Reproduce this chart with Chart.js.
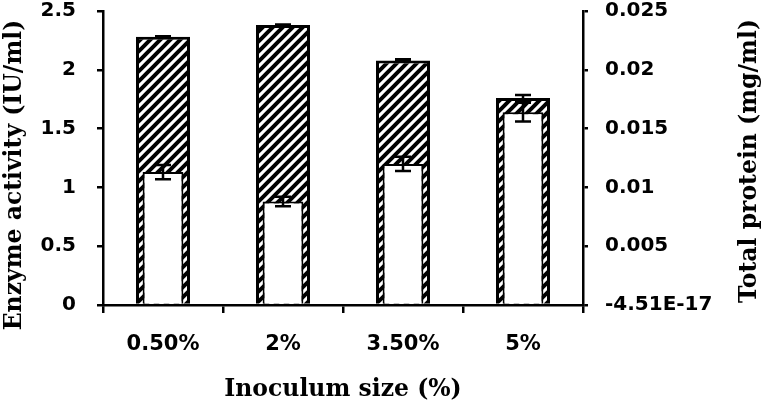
<!DOCTYPE html>
<html>
<head>
<meta charset="utf-8">
<script src="https://cdn.jsdelivr.net/npm/chart.js@4/dist/chart.umd.min.js"></script>
<style>
  html, body { margin: 0; padding: 0; background: #fff; }
  #wrap { width: 765px; height: 406px; }
</style>
</head>
<body>
<div id="wrap"><canvas id="c" width="765" height="406"></canvas></div>
<script>
const categories = ['0.50%', '2%', '3.50%', '5%'];
const enzymeActivity = [2.28, 2.38, 2.08, 1.76];
const enzymeError = [0.005, 0.005, 0.01, 0.025];
const totalProtein = [0.0113, 0.0088, 0.0120, 0.0164];
const proteinError = [0.0006, 0.0004, 0.0006, 0.0008];
const enzymeTickLabels = ['0', '0.5', '1', '1.5', '2', '2.5'];
const proteinTickLabels = ['-4.51E-17', '0.005', '0.01', '0.015', '0.02', '0.025'];
const xTitle = 'Inoculum size (%)';
const yTitle = 'Enzyme activity (IU/ml)';
const y1Title = 'Total protein (mg/ml)';

function hatchPattern() {
  const s = 10;
  const c = document.createElement('canvas');
  c.width = s; c.height = s;
  const g = c.getContext('2d');
  g.fillStyle = '#fff';
  g.fillRect(0, 0, s, s);
  g.strokeStyle = '#000';
  g.lineWidth = 4;
  g.beginPath();
  g.moveTo(-3, s + 3); g.lineTo(s + 3, -3);
  g.moveTo(-3, 3); g.lineTo(3, -3);
  g.moveTo(s - 3, s + 3); g.lineTo(s + 3, s - 3);
  g.stroke();
  const ctx = document.getElementById('c').getContext('2d');
  return ctx.createPattern(c, 'repeat');
}

const tickFont = { family: 'DejaVu Sans', weight: 'bold', size: 20, lineHeight: 1.0 };
const titleFont = 'bold 23.5px "DejaVu Serif"';

const errorBarPlugin = {
  id: 'errorBars',
  afterDatasetsDraw(chart) {
    const ctx = chart.ctx;
    chart.data.datasets.forEach((ds, i) => {
      if (!ds.errors) return;
      const meta = chart.getDatasetMeta(i);
      const scale = chart.scales[ds.yAxisID];
      meta.data.forEach((el, j) => {
        const v = ds.data[j], e = ds.errors[j];
        const x = el.x;
        const yt = scale.getPixelForValue(v + e);
        const yb = scale.getPixelForValue(v - e);
        ctx.save();
        ctx.strokeStyle = '#000';
        ctx.lineWidth = 2.5;
        ctx.beginPath();
        ctx.moveTo(x, yt); ctx.lineTo(x, yb);
        ctx.moveTo(x - 8, yt); ctx.lineTo(x + 8, yt);
        ctx.moveTo(x - 8, yb); ctx.lineTo(x + 8, yb);
        ctx.stroke();
        ctx.restore();
      });
    });
  }
};

const titlesPlugin = {
  id: 'titles',
  afterDraw(chart) {
    const ctx = chart.ctx;
    ctx.save();
    ctx.fillStyle = '#000';
    ctx.font = titleFont;
    ctx.textAlign = 'center';
    ctx.textBaseline = 'middle';
    ctx.fillText(xTitle, (chart.chartArea.left + chart.chartArea.right) / 2, 390);
    ctx.save();
    ctx.translate(15, 175);
    ctx.rotate(-Math.PI / 2);
    ctx.fillText(yTitle, 0, 0);
    ctx.restore();
    ctx.save();
    ctx.translate(750, 161);
    ctx.rotate(-Math.PI / 2);
    ctx.fillText(y1Title, 0, 0);
    ctx.restore();
    ctx.restore();
  }
};

function fixVertical(width) {
  return s => { s.width = width; s.paddingTop = 0; s.paddingBottom = 0; };
}

new Chart(document.getElementById('c'), {
  type: 'bar',
  data: {
    labels: categories,
    datasets: [
      {
        label: 'Enzyme activity',
        data: enzymeActivity,
        errors: enzymeError,
        yAxisID: 'y',
        backgroundColor: hatchPattern(),
        borderColor: '#000',
        borderWidth: 3,
        grouped: false,
        barPercentage: 0.45,
        categoryPercentage: 1,
        order: 2
      },
      {
        label: 'Total protein',
        data: totalProtein,
        errors: proteinError,
        yAxisID: 'y1',
        backgroundColor: '#fff',
        borderColor: '#000',
        borderWidth: 2,
        grouped: false,
        barPercentage: 0.34,
        categoryPercentage: 1,
        order: 1
      }
    ]
  },
  options: {
    responsive: false,
    animation: false,
    layout: { padding: { top: 11, left: 0, right: 0, bottom: 0 } },
    plugins: { legend: { display: false }, tooltip: { enabled: false } },
    scales: {
      x: {
        offset: true,
        grid: { display: true, drawOnChartArea: false, drawTicks: true, tickLength: 8, color: '#000', lineWidth: 2.5, offset: true },
        border: { display: true, color: '#000', width: 2.5 },
        ticks: { font: { family: 'DejaVu Sans', weight: 'bold', size: 21 }, color: '#000', padding: 19, maxRotation: 0 },
        afterFit: s => { s.height = 101; s.paddingLeft = 0; s.paddingRight = 0; }
      },
      y: {
        position: 'left',
        min: 0, max: 2.5,
        grid: { display: true, drawOnChartArea: false, drawTicks: true, tickLength: 6, color: '#000', lineWidth: 2.5 },
        border: { display: true, color: '#000', width: 2.5 },
        ticks: { stepSize: 0.5, font: tickFont, color: '#000', padding: 21, callback: (v, i) => enzymeTickLabels[i] },
        afterFit: fixVertical(103)
      },
      y1: {
        position: 'right',
        min: 0, max: 0.025,
        grid: { display: true, drawOnChartArea: false, drawTicks: true, tickLength: 5, color: '#000', lineWidth: 2.5 },
        border: { display: true, color: '#000', width: 2.5 },
        ticks: { stepSize: 0.005, font: tickFont, color: '#000', padding: 17, callback: (v, i) => proteinTickLabels[i] },
        afterFit: fixVertical(182)
      }
    }
  },
  plugins: [errorBarPlugin, titlesPlugin]
});
</script>
</body>
</html>
